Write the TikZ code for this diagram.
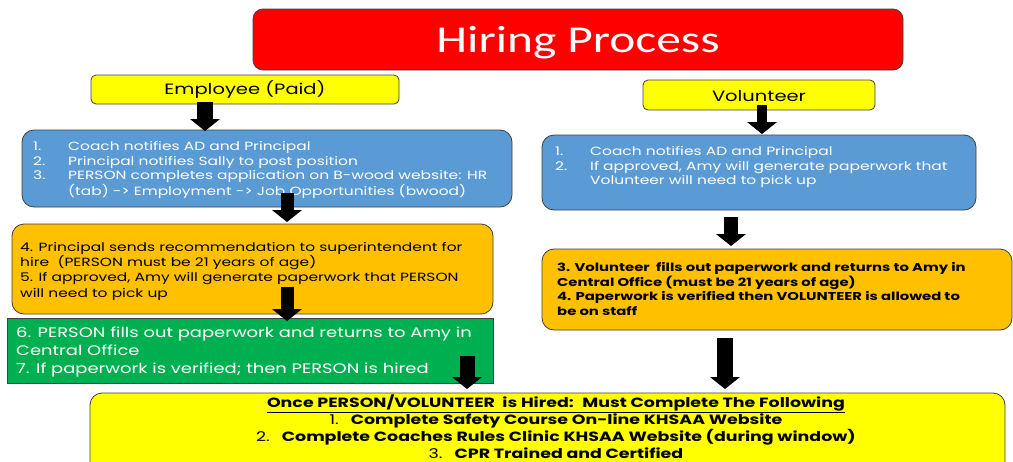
\documentclass[tikz,border=0pt]{standalone}
\usepackage{fontspec}
\setmainfont{Poppins}[FakeStretch=1.3]
\newfontfamily\titlefont{Carlito}[FakeStretch=1.3]
\usetikzlibrary{arrows.meta,calc}
\definecolor{titlered}{HTML}{FF0000}
\definecolor{hyellow}{HTML}{FFFF00}
\definecolor{hblue}{HTML}{5B9BD5}
\definecolor{horange}{HTML}{FFC000}
\definecolor{hgreen}{HTML}{00B050}
\definecolor{edge}{HTML}{404040}
\begin{document}
\begin{tikzpicture}[x=1pt,y=-1pt,
  box/.style={draw=edge, line width=0.8pt, anchor=north west, inner sep=0pt, outer sep=0pt},
  txt/.style={anchor=north west, inner sep=0pt, align=left},
  barrow/.style={line width=15pt, -{Triangle[width=30pt,length=12pt,line width=0pt]}},
  small/.style={font=\fontsize{11.9}{14.7}\selectfont},
]
\useasboundingbox (0,0) rectangle (1013,461);
\clip (0,0) rectangle (1013,461);

% boxes
\node[box, fill=titlered, rounded corners=10pt, minimum width=650pt, minimum height=61pt] (title) at (253,9) {};
\node[font=\titlefont\fontsize{38}{42}\selectfont, text=white] (titletext) at (578,43) {Hiring Process};

\node[box, fill=hyellow, rounded corners=5pt, minimum width=308pt, minimum height=29pt] (emp) at (91,75) {};
\node[font=\fontsize{15}{17}\selectfont] (emptext) at (245,89) {Employee (Paid)};

\node[box, fill=hyellow, rounded corners=5pt, minimum width=232pt, minimum height=30pt] (vol) at (643,80) {};
\node[font=\fontsize{15}{17}\selectfont] (voltext) at (759,96) {Volunteer};

\node[box, fill=hblue, rounded corners=12pt, minimum width=490pt, minimum height=77pt] (lb) at (22,130) {};
\node[box, fill=horange, rounded corners=12pt, minimum width=481pt, minimum height=90pt] (lo) at (12,224) {};
\node[box, fill=hgreen, minimum width=486pt, minimum height=65pt] (gr) at (7,318) {};
\node[box, fill=hblue, rounded corners=12pt, minimum width=434pt, minimum height=75pt] (rb) at (542,135) {};
\node[box, fill=horange, rounded corners=12pt, minimum width=470pt, minimum height=81pt] (ro) at (542,249) {};
\node[box, fill=hyellow, rounded corners=12pt, minimum width=915pt, minimum height=90pt] (bt) at (90,393) {};

% texts
\node[txt, small, text=white] (lbtext) at (33,140) {%
\begin{tabular}{@{}p{35pt}@{}l@{}}
1. & Coach notifies AD and Principal\\
2. & Principal notifies Sally to post position\\
3. & PERSON completes application on B-wood website: HR\\
   & (tab) -> Employment -> Job Opportunities (bwood)
\end{tabular}};

\node[txt, font=\fontsize{11.9}{15.3}\selectfont] (lotext) at (20,242) {4. Principal sends recommendation to superintendent for\\
hire~ (PERSON must be 21 years of age)\\
5. If approved, Amy will generate paperwork that PERSON\\
will need to pick up};

\node[txt, font=\fontsize{13.8}{18}\selectfont, text=white] (grtext) at (16,327) {6. PERSON fills out paperwork and returns to Amy in\\
Central Office\\
7. If paperwork is verified; then PERSON is hired};

\node[txt, small, text=white] (rbtext) at (555,145) {%
\begin{tabular}{@{}p{35pt}@{}l@{}}
1. & Coach notifies AD and Principal\\
2. & If approved, Amy will generate paperwork that\\
   & Volunteer will need to pick up
\end{tabular}};

\node[txt, font=\bfseries\fontsize{11.4}{14.7}\selectfont] (rotext) at (557,262) {3. Volunteer~ fills out paperwork and returns to Amy in\\
Central Office (must be 21 years of age)\\
4. Paperwork is verified then VOLUNTEER is allowed to\\
be on staff};

\node[anchor=north, inner sep=0pt, align=center, font=\bfseries\fontsize{13.4}{16.9}\selectfont] (bttext) at (556,394.5) {\underline{Once PERSON/VOLUNTEER~ is Hired:~ Must Complete The Following}\\
{\mdseries 1.}\hspace{12pt}Complete Safety Course On-line KHSAA Website\\
{\mdseries 2.}\hspace{12pt}Complete Coaches Rules Clinic KHSAA Website (during window)\\
{\mdseries 3.}\hspace{12pt}CPR Trained and Certified};

% arrows
\coordinate (a1s) at (205,102); \coordinate (a1e) at (205,131);
\coordinate (a2s) at (287,193); \coordinate (a2e) at (287,222);
\coordinate (a3s) at (287,287); \coordinate (a3e) at (287,321);
\coordinate (a4s) at (467,356); \coordinate (a4e) at (467,389);
\coordinate (a5s) at (762,105); \coordinate (a5e) at (762,134);
\coordinate (a6s) at (731,217); \coordinate (a6e) at (731,246);
\coordinate (a7s) at (725,338); \coordinate (a7e) at (725,389);
\draw[barrow, line width=16pt] (a1s) -- (a1e);
\draw[barrow, line width=13pt] (a2s) -- (a2e);
\draw[barrow, line width=13pt] (a3s) -- (a3e);
\draw[barrow, line width=15pt] (a4s) -- (a4e);
\draw[barrow, line width=10pt] (a5s) -- (a5e);
\draw[barrow, line width=14pt] (a6s) -- (a6e);
\draw[barrow, line width=16pt] (a7s) -- (a7e);
\end{tikzpicture}
\end{document}
